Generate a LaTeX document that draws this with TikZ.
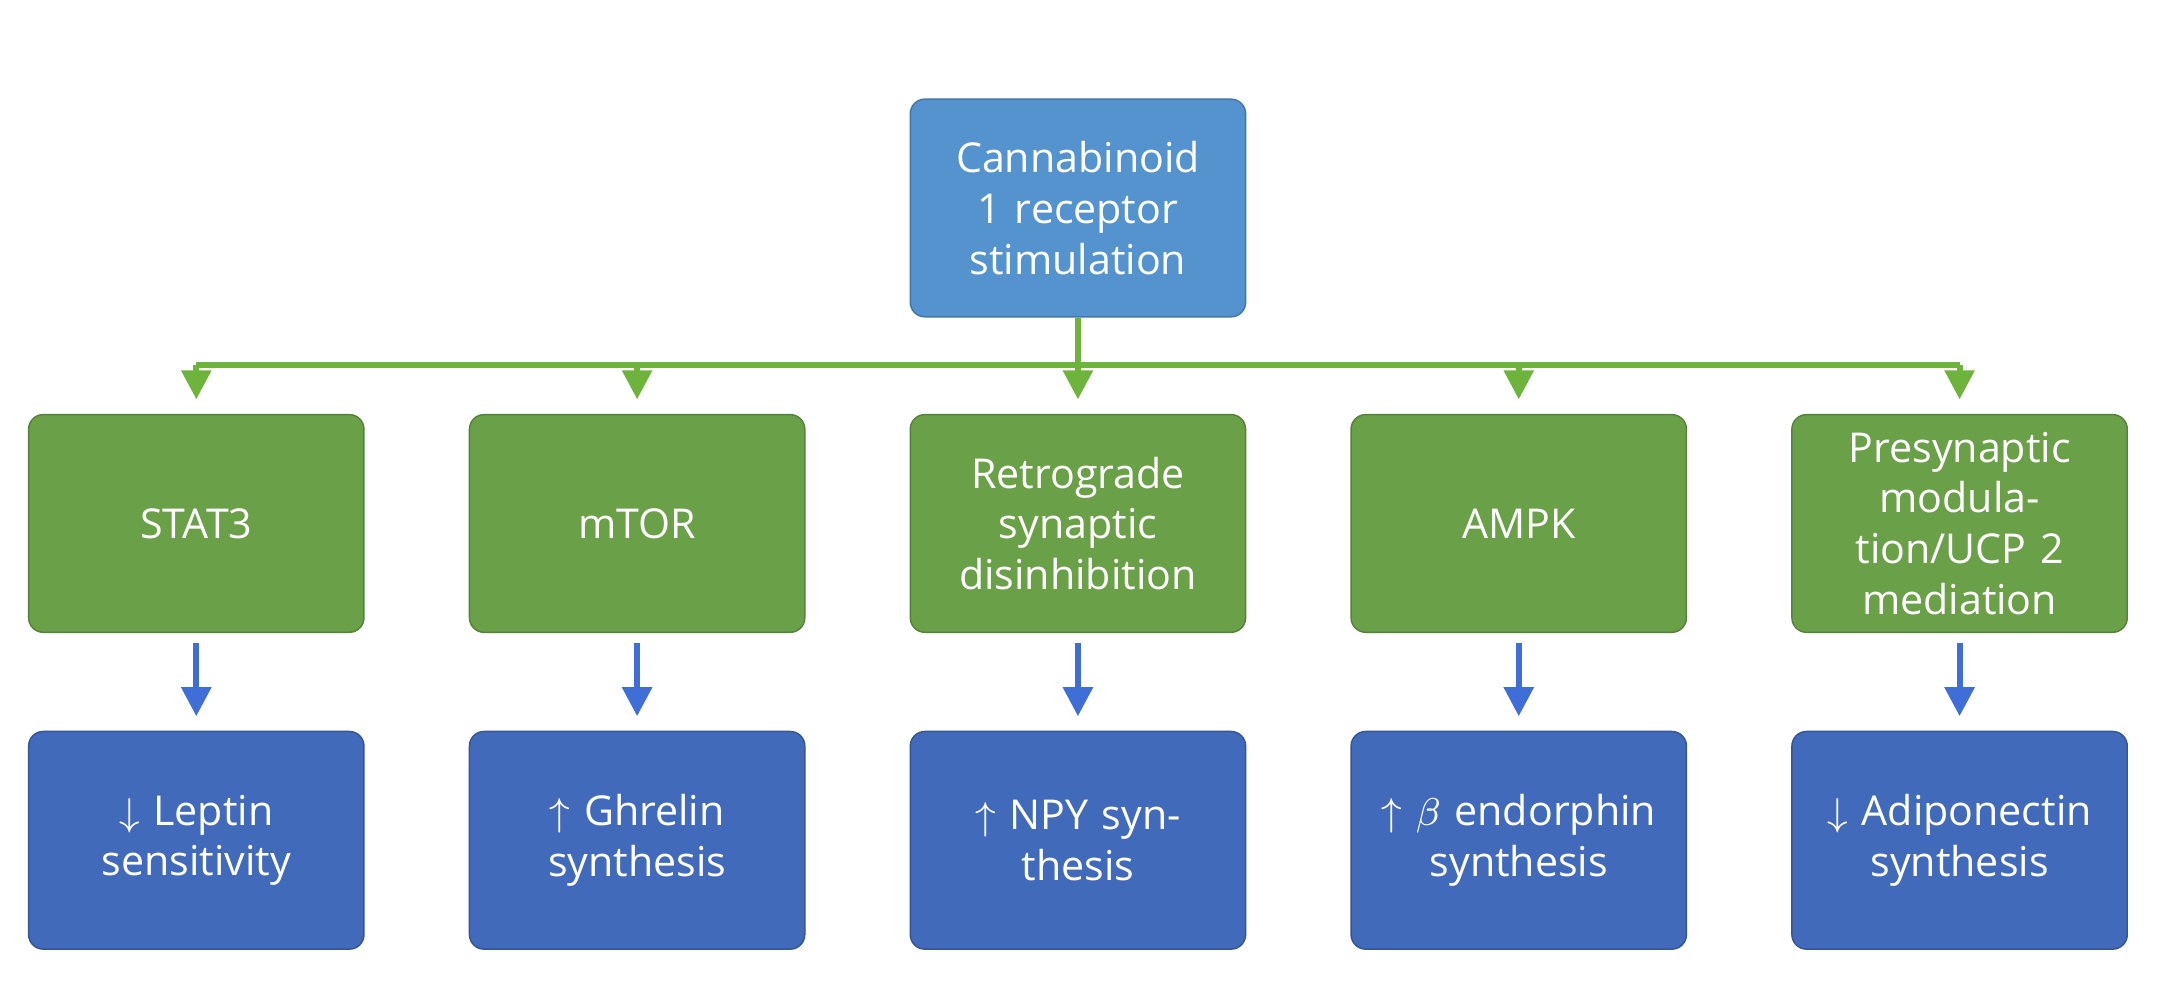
\documentclass[tikz,border=0pt]{standalone}
\usepackage{fontspec}
\setmainfont{Open Sans}
\usetikzlibrary{positioning,arrows.meta}
\definecolor{topblue}{RGB}{84,147,206}
\definecolor{midgreen}{RGB}{106,161,72}
\definecolor{lowblue}{RGB}{66,106,186}
\definecolor{barblue}{RGB}{62,110,214}
\definecolor{bargreen}{RGB}{110,180,60}
\tikzset{
  box/.style={draw=#1!80!black, line width=0.3pt, fill=#1, rounded corners=3pt, text=white,
    minimum width=2.41cm, minimum height=1.58cm, text width=2.2cm, align=center,
    font=\fontsize{8.5}{10.5}\selectfont},
  garrow/.style={draw=bargreen, line width=1.2pt, -{Triangle[width=6pt,length=6pt]}},
  barrow/.style={draw=barblue, line width=1.2pt, -{Triangle[width=6pt,length=6pt]}}
}
\begin{document}
\begin{tikzpicture}
        \useasboundingbox (0, 0) rectangle (15.68, 7.22);
        \node [box=topblue]  (CB)  at (7.825, 5.71) {Cannabinoid 1 receptor stimulation};
        \node [box=midgreen] (ST)  at (1.425, 3.42) {STAT3};
        \node [box=midgreen] (MT)  at (4.625, 3.42) {mTOR};
        \node [box=midgreen] (RS)  at (7.825, 3.42) {Retrograde synaptic disinhibition};
        \node [box=midgreen] (AM)  at (11.025, 3.42) {AMPK};
        \node [box=midgreen] (PM)  at (14.225, 3.42) {Presynaptic modulation/UCP 2 mediation};
        \node [box=lowblue]  (LS)  at (1.425, 1.12) {$\downarrow$ Leptin sensitivity};
        \node [box=lowblue]  (GS)  at (4.625, 1.12) {$\uparrow$ Ghrelin synthesis};
        \node [box=lowblue]  (NS)  at (7.825, 1.12) {$\uparrow$ NPY synthesis};
        \node [box=lowblue]  (ES)  at (11.025, 1.12) {$\uparrow$ $\beta$ endorphin synthesis};
        \node [box=lowblue]  (AS)  at (14.225, 1.12) {$\downarrow$ Adiponectin synthesis};
        \coordinate (BL) at (1.425, 4.57);
        \coordinate (BM) at (7.825, 4.57);
        \coordinate (BR) at (14.225, 4.57);
        \draw [draw=bargreen, line width=1.2pt] (CB) -- (BM);
        \draw [draw=bargreen, line width=1.2pt] (BL) -- (BR);
        \foreach \g in {ST, MT, RS, AM, PM}
          \draw [garrow] (\g.north |- BM) -- ([yshift=3pt]\g.north);
        \draw [barrow] ([yshift=-2pt]ST.south) -- ([yshift=3pt]LS.north);
        \draw [barrow] ([yshift=-2pt]MT.south) -- ([yshift=3pt]GS.north);
        \draw [barrow] ([yshift=-2pt]RS.south) -- ([yshift=3pt]NS.north);
        \draw [barrow] ([yshift=-2pt]AM.south) -- ([yshift=3pt]ES.north);
        \draw [barrow] ([yshift=-2pt]PM.south) -- ([yshift=3pt]AS.north);
\end{tikzpicture}
\end{document}
